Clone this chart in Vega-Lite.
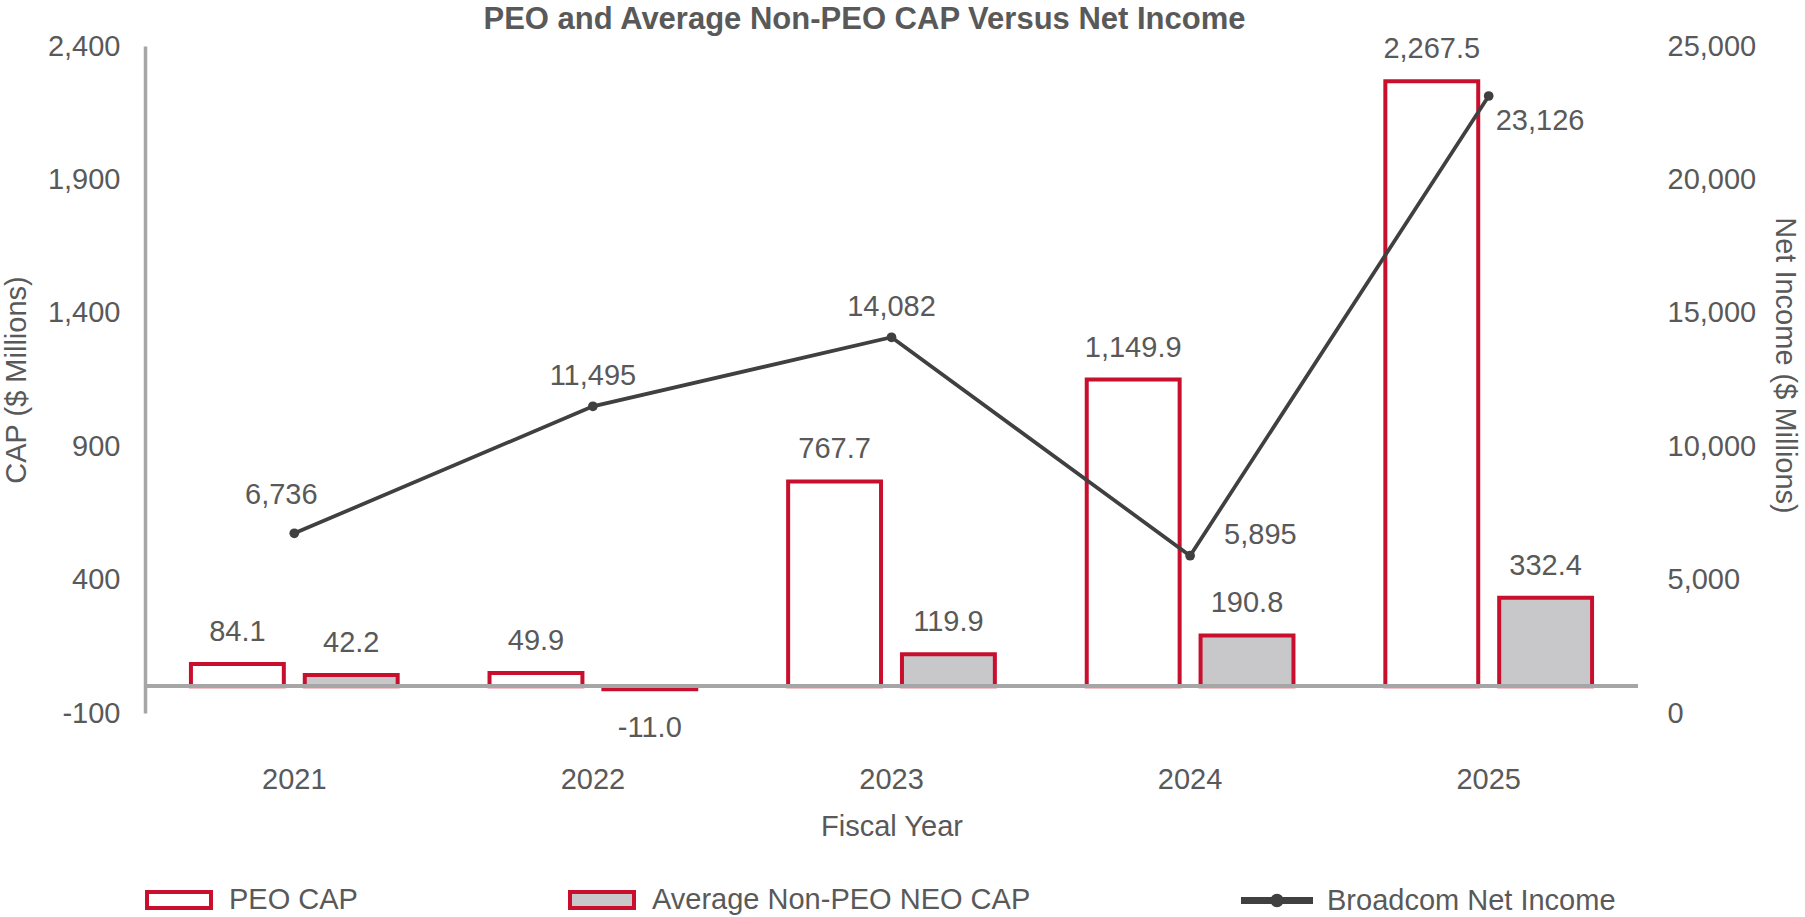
{
  "$schema": "https://vega.github.io/schema/vega-lite/v6.json",
  "width": 1493,
  "height": 667,
  "autosize": {"type": "none"},
  "padding": {"left": 145, "top": 46, "right": 167, "bottom": 204},
  "background": "white",
  "config": {
    "font": "Liberation Sans",
    "view": {"stroke": null},
    "locale": {"number": {"decimal": ".", "thousands": ",", "grouping": [3], "currency": ["$", ""], "minus": "-"}},
    "axis": {"labelFont": "Liberation Sans", "titleFont": "Liberation Sans", "labelColor": "#595959", "titleColor": "#595959", "labelFontSize": 29, "titleFontSize": 29, "titleFontWeight": "normal", "grid": false, "ticks": false, "tickSize": 0},
    "text": {"font": "Liberation Sans", "fontSize": 29, "fill": "#595959"}
  },
  "title": {"text": "PEO and Average Non-PEO CAP Versus Net Income", "font": "Liberation Sans", "fontSize": 31, "fontWeight": "bold", "color": "#595959", "anchor": "middle", "frame": "group", "offset": 3, "baseline": "alphabetic", "dx": -27, "dy": 31},
  "datasets": {
    "cap": [
      {"year": "2021", "series": "PEO CAP", "value": 84.1},
      {"year": "2021", "series": "Average Non-PEO NEO CAP", "value": 42.2},
      {"year": "2022", "series": "PEO CAP", "value": 49.9},
      {"year": "2022", "series": "Average Non-PEO NEO CAP", "value": -11.0},
      {"year": "2023", "series": "PEO CAP", "value": 767.7},
      {"year": "2023", "series": "Average Non-PEO NEO CAP", "value": 119.9},
      {"year": "2024", "series": "PEO CAP", "value": 1149.9},
      {"year": "2024", "series": "Average Non-PEO NEO CAP", "value": 190.8},
      {"year": "2025", "series": "PEO CAP", "value": 2267.5},
      {"year": "2025", "series": "Average Non-PEO NEO CAP", "value": 332.4}
    ],
    "ni": [
      {"year": "2021", "ni": 6736},
      {"year": "2022", "ni": 11495},
      {"year": "2023", "ni": 14082},
      {"year": "2024", "ni": 5895},
      {"year": "2025", "ni": 23126}
    ]
  },
  "layer": [
    {
      "data": {"name": "cap"},
      "encoding": {
        "y": {"field": "value", "type": "quantitative", "scale": {"domain": [-100, 2400], "nice": false, "zero": false},
          "axis": {"orient": "left", "values": [-100, 400, 900, 1400, 1900, 2400], "format": ",.0f", "domain": true, "domainColor": "#a6a6a6", "domainWidth": 3.5, "labelPadding": 25, "title": "CAP ($ Millions)", "titlePadding": 16}}
      },
      "layer": [
        {
          "mark": {"type": "bar", "strokeWidth": 4},
          "encoding": {
            "x": {"field": "year", "type": "nominal", "scale": {"paddingInner": 0, "paddingOuter": 0},
              "axis": {"labelAngle": 0, "domain": false, "labelPadding": 52, "title": "Fiscal Year", "titlePadding": 18}},
            "xOffset": {"field": "series", "type": "nominal", "scale": {"domain": ["PEO CAP", "Average Non-PEO NEO CAP"], "paddingInner": 0.184, "paddingOuter": 0.4035}},
            "fill": {"field": "series", "type": "nominal",
              "scale": {"domain": ["PEO CAP", "Average Non-PEO NEO CAP", "Broadcom Net Income"], "range": ["#ffffff", "#c8c8ca", "#404040"]},
              "legend": {"title": null, "orient": "none", "legendX": 16, "legendY": 836, "direction": "horizontal", "columns": 3, "columnPadding": 204, "padding": 0, "symbolSize": 1024, "symbolStrokeWidth": 4, "labelOffset": 32, "labelFontSize": 29, "labelFont": "Liberation Sans", "labelColor": "#595959", "labelLimit": 1000,
                "encode": {"symbols": {"update": {"shape": {"signal": "datum.value === 'Broadcom Net Income' ? 'M-2.125,-0.1H2.125V0.1H-2.125Z M0.3,0A0.3,0.3,0,1,1,-0.3,0A0.3,0.3,0,1,1,0.3,0Z' : 'M-2,-0.5H2V0.5H-2Z'"}}}}}},
            "stroke": {"field": "series", "type": "nominal",
              "scale": {"domain": ["PEO CAP", "Average Non-PEO NEO CAP", "Broadcom Net Income"], "range": ["#c8102e", "#c8102e", "#404040"]},
              "legend": {"title": null, "orient": "none", "legendX": 16, "legendY": 836, "direction": "horizontal", "columns": 3, "columnPadding": 204, "padding": 0, "symbolSize": 1024, "symbolStrokeWidth": 4, "labelOffset": 32, "labelFontSize": 29, "labelFont": "Liberation Sans", "labelColor": "#595959", "labelLimit": 1000,
                "encode": {"symbols": {"update": {"shape": {"signal": "datum.value === 'Broadcom Net Income' ? 'M-2.125,-0.1H2.125V0.1H-2.125Z M0.3,0A0.3,0.3,0,1,1,-0.3,0A0.3,0.3,0,1,1,0.3,0Z' : 'M-2,-0.5H2V0.5H-2Z'"}}}}}}
          }
        },
        {
          "mark": {"type": "rule", "color": "#a6a6a6", "strokeWidth": 3.5},
          "encoding": {"y": {"datum": 0}}
        },
        {
          "transform": [{"filter": "datum.value >= 0"}],
          "mark": {"type": "text", "baseline": "middle", "align": "center", "dy": -32},
          "encoding": {
            "x": {"field": "year", "type": "nominal"},
            "xOffset": {"field": "series", "type": "nominal"},
            "text": {"field": "value", "type": "quantitative", "format": ",.1f"}
          }
        },
        {
          "transform": [{"filter": "datum.value < 0"}],
          "mark": {"type": "text", "baseline": "middle", "align": "center", "dy": 39},
          "encoding": {
            "x": {"field": "year", "type": "nominal"},
            "xOffset": {"field": "series", "type": "nominal"},
            "text": {"field": "value", "type": "quantitative", "format": ",.1f"}
          }
        }
      ]
    },
    {
      "data": {"name": "ni"},
      "encoding": {
        "x": {"field": "year", "type": "nominal"},
        "y": {"field": "ni", "type": "quantitative", "scale": {"domain": [0, 25000], "nice": false},
          "axis": {"orient": "right", "values": [0, 5000, 10000, 15000, 20000, 25000], "format": ",.0f", "domain": false, "labelPadding": 29, "title": "Net Income ($ Millions)", "titlePadding": 14, "titleY": 319}}
      },
      "layer": [
        {"mark": {"type": "line", "color": "#404040", "strokeWidth": 3.75}},
        {"mark": {"type": "point", "filled": true, "size": 95, "color": "#404040", "opacity": 1}},
        {
          "transform": [{"filter": "datum.year === '2021'"}],
          "mark": {"type": "text", "baseline": "middle", "align": "center", "dx": -13, "dy": -38},
          "encoding": {"text": {"field": "ni", "type": "quantitative", "format": ","}}
        },
        {
          "transform": [{"filter": "datum.year === '2022' || datum.year === '2023'"}],
          "mark": {"type": "text", "baseline": "middle", "align": "center", "dy": -30},
          "encoding": {"text": {"field": "ni", "type": "quantitative", "format": ","}}
        },
        {
          "transform": [{"filter": "datum.year === '2024'"}],
          "mark": {"type": "text", "baseline": "middle", "align": "left", "dx": 34, "dy": -21},
          "encoding": {"text": {"field": "ni", "type": "quantitative", "format": ","}}
        },
        {
          "transform": [{"filter": "datum.year === '2025'"}],
          "mark": {"type": "text", "baseline": "middle", "align": "left", "dx": 7, "dy": 25},
          "encoding": {"text": {"field": "ni", "type": "quantitative", "format": ","}}
        }
      ]
    }
  ],
  "resolve": {"scale": {"y": "independent"}}
}
